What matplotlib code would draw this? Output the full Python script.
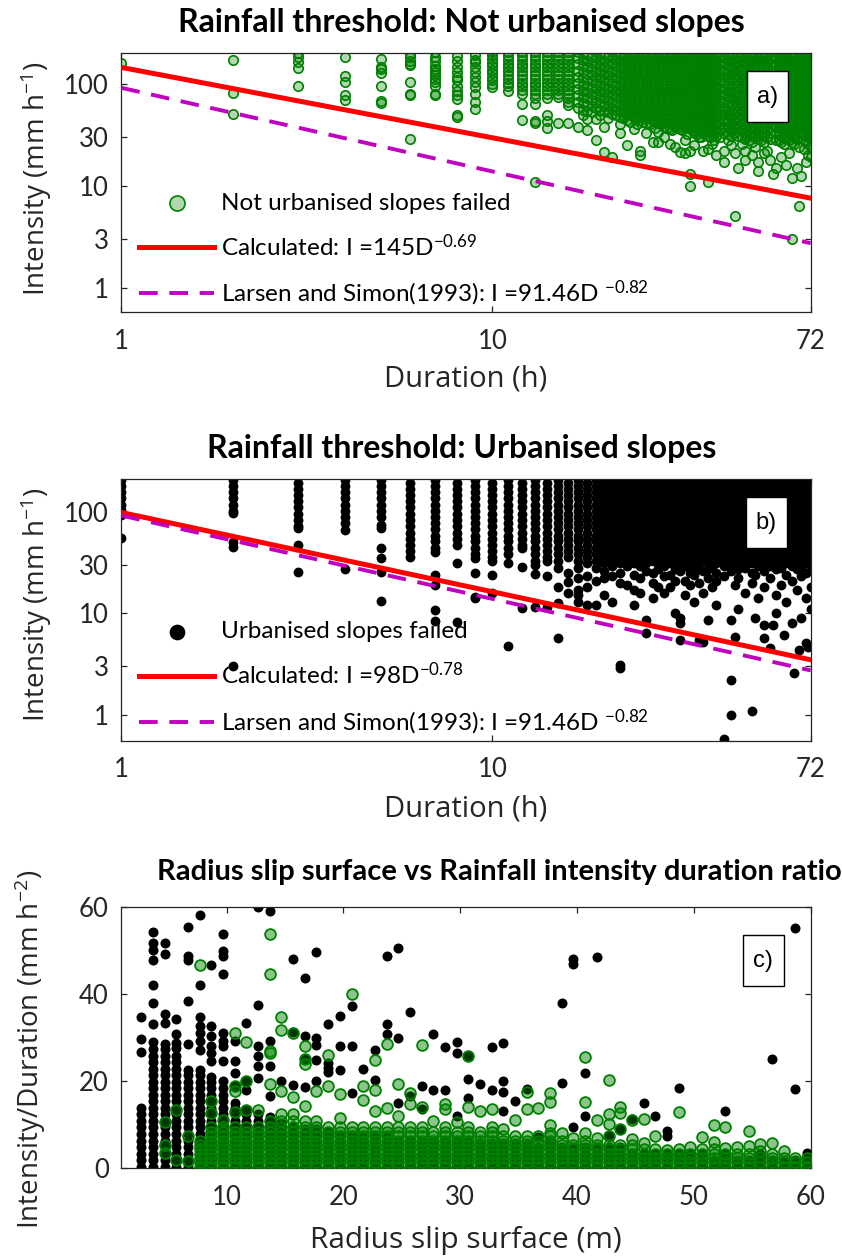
import numpy as np
import matplotlib
matplotlib.use("Agg")
import matplotlib.pyplot as plt
from matplotlib.patches import Rectangle
from matplotlib.ticker import NullLocator

plt.rcParams['font.family'] = ['Lato', 'DejaVu Sans']
plt.rcParams['mathtext.default'] = 'regular'

# ---------------- a) not urbanised slopes: duration (h) -> intensities (mm/h)
nu_dur = [1, 2, 3, 4, 5, 6, 7, 8, 9, 10, 11, 12, 13, 14, 15, 16, 17, 18, 19, 20,
          21, 22, 23, 24, 25, 26, 27, 28, 29, 30, 31, 32, 33, 34, 35, 36, 37, 38,
          39, 40, 42, 44, 45, 46, 48, 50, 52, 54, 56, 57, 58, 60, 62, 64, 66, 67,
          68, 70, 72]
nu_int = [
    [161],
    [173, 82, 51],
    [200, 185, 165, 142, 96],
    [185, 119, 105, 78, 69],
    [177, 146, 140, 127, 96, 68, 65],
    [196, 183, 169, 157, 152, 104, 80, 77, 29],
    [205, 182, 169, 150, 140, 130, 121, 112, 104, 96, 80, 77],
    [188, 169, 146, 130, 116, 108, 96, 86, 77, 71, 49, 47],
    [190, 172, 163, 146, 130, 116, 104, 93, 80, 66, 57],
    [205, 190, 175, 160, 148, 137, 127, 117, 108, 100, 93],
    [205, 188, 172, 158, 145, 133, 122, 112, 103, 95, 86],
    [205, 188, 172, 158, 145, 133, 122, 112, 103, 95, 87, 80, 64, 44],
    [205, 188, 172, 158, 145, 133, 122, 112, 103, 95, 87, 80, 73, 64, 43, 41, 11],
    [205, 188, 172, 158, 145, 133, 122, 112, 103, 95, 87, 80, 73, 49, 43, 37],
    [205, 188, 172, 158, 145, 133, 122, 112, 103, 95, 87, 80, 75, 41],
    [205, 188, 172, 158, 145, 133, 122, 112, 103, 95, 87, 80, 73, 67, 62, 41],
    [205, 178, 155, 135, 117, 102, 89, 77, 67, 58, 38],
    [192, 166, 145, 126, 110, 95, 83, 72, 62, 54, 45, 35],
    [205, 178, 155, 135, 117, 102, 89, 77, 67, 58, 45, 28],
    [192, 166, 145, 126, 110, 95, 83, 72, 62, 54, 38, 21.5],
    [205, 178, 155, 135, 117, 102, 89, 77, 67, 58, 51, 19],
    [192, 166, 145, 126, 110, 95, 83, 72, 62, 54, 47, 40, 33],
    [205, 178, 155, 135, 117, 102, 89, 77, 67, 58, 51, 44, 25],
    [192, 166, 145, 126, 110, 95, 83, 72, 62, 54, 47, 36],
    [205, 178, 155, 135, 117, 102, 89, 77, 67, 58, 51, 44, 22, 20],
    [192, 166, 145, 126, 110, 95, 83, 72, 62, 54, 47, 41, 33],
    [205, 178, 155, 135, 117, 102, 89, 77, 67, 58, 51, 44, 27],
    [192, 166, 145, 126, 110, 95, 83, 72, 62, 54, 47, 41, 34, 27],
    [205, 178, 155, 135, 117, 102, 89, 77, 67, 58, 51, 44, 38, 30],
    [192, 166, 145, 126, 110, 95, 83, 72, 62, 54, 47, 41, 36, 26],
    [205, 178, 155, 135, 117, 102, 89, 77, 67, 58, 51, 44, 38, 24],
    [192, 166, 145, 126, 110, 95, 83, 72, 62, 54, 47, 41, 36, 21.5],
    [205, 178, 155, 135, 117, 102, 89, 77, 67, 58, 51, 44, 38, 28, 21],
    [192, 166, 145, 126, 110, 95, 83, 72, 62, 54, 47, 41, 22, 13, 10],
    [205, 178, 155, 135, 117, 102, 89, 77, 67, 58, 51, 44, 38, 33, 25],
    [192, 166, 145, 126, 110, 95, 83, 72, 62, 54, 47, 41, 36, 30],
    [205, 178, 155, 135, 117, 102, 89, 77, 67, 58, 51, 44, 38, 33, 22],
    [192, 166, 145, 126, 110, 95, 83, 72, 62, 54, 47, 41, 36, 31, 23, 11],
    [205, 178, 155, 135, 117, 102, 89, 77, 67, 58, 51, 44, 38, 33, 26],
    [192, 166, 145, 126, 110, 95, 83, 72, 62, 54, 47, 41, 36, 31, 20],
    [205, 178, 155, 135, 117, 102, 89, 77, 67, 58, 51, 44, 38, 33, 22, 17],
    [192, 166, 145, 126, 110, 95, 83, 72, 62, 54, 47, 41, 36, 31, 25],
    [205, 178, 155, 135, 117, 102, 89, 77, 67, 58, 51, 44, 38, 33, 21, 5.1],
    [192, 166, 145, 126, 110, 95, 83, 72, 62, 54, 47, 41, 36, 31, 15],
    [205, 178, 155, 135, 117, 102, 89, 77, 67, 58, 51, 44, 38, 33, 29, 22, 18],
    [192, 166, 145, 126, 110, 95, 83, 72, 62, 54, 47, 41, 36, 31, 27, 20],
    [205, 178, 155, 135, 117, 102, 89, 77, 67, 58, 51, 44, 38, 33, 29, 17, 14],
    [192, 166, 145, 126, 110, 95, 83, 72, 62, 54, 47, 41, 36, 31, 27, 21],
    [205, 178, 155, 135, 117, 102, 89, 77, 67, 58, 51, 44, 38, 33, 29, 18],
    [192, 145, 95, 62, 41, 13],
    [205, 178, 155, 135, 117, 102, 89, 77, 67, 58, 51, 44, 38, 33, 28, 15],
    [192, 166, 145, 126, 110, 95, 83, 72, 62, 54, 47, 41, 36, 31, 27, 19],
    [205, 178, 155, 135, 117, 102, 89, 77, 67, 58, 51, 44, 38, 33, 29, 16],
    [192, 166, 145, 126, 110, 95, 83, 72, 62, 54, 47, 41, 36, 31, 27, 12, 3.0],
    [205, 178, 155, 135, 117, 102, 89, 77, 67, 58, 51, 44, 38, 33, 29, 15],
    [192, 145, 95, 62, 41, 24, 6.4],
    [205, 178, 155, 135, 117, 102, 89, 77, 67, 58, 51, 44, 38, 33, 12.5],
    [192, 166, 145, 126, 110, 95, 83, 72, 62, 54, 47, 41, 36, 31, 27, 17],
    [205, 178, 155, 135, 117, 102, 89, 77, 67, 58, 51, 44, 38, 33, 29, 24, 19],
]
# fractional durations inside the dense part of the cloud
nu_dur_mid = [17.5, 18.5, 19.5, 20.5, 21.5, 22.5, 23.5, 24.5, 25.5, 26.5, 27.5, 28.5,
              29.5, 30.5, 31.5, 32.5, 33.5, 34.5, 35.5, 36.5, 37.5, 38.5, 39.5, 41,
              43, 47, 49, 51, 53, 55, 59, 61, 63, 65, 69, 71]
nu_int_mid = [
    [198, 172, 150, 130, 113, 98, 86, 75, 65, 56, 49],
    [185, 160, 140, 122, 106, 92, 80, 70, 61, 53],
    [198, 172, 150, 130, 113, 98, 86, 75, 65, 56, 49],
    [185, 160, 140, 122, 106, 92, 80, 70, 61, 53, 46],
    [198, 172, 150, 130, 113, 98, 86, 75, 65, 56, 49],
    [185, 160, 140, 122, 106, 92, 80, 70, 61, 53, 46],
    [198, 172, 150, 130, 113, 98, 86, 75, 65, 56, 49, 42],
    [185, 160, 140, 122, 106, 92, 80, 70, 61, 53, 46, 40],
    [198, 172, 150, 130, 113, 98, 86, 75, 65, 56, 49, 42],
    [185, 160, 140, 122, 106, 92, 80, 70, 61, 53, 46, 40],
    [198, 172, 150, 130, 113, 98, 86, 75, 65, 56, 49, 42, 37],
    [185, 160, 140, 122, 106, 92, 80, 70, 61, 53, 46, 40],
    [198, 172, 150, 130, 113, 98, 86, 75, 65, 56, 49, 42, 37],
    [185, 160, 140, 122, 106, 92, 80, 70, 61, 53, 46, 40, 35],
    [198, 172, 150, 130, 113, 98, 86, 75, 65, 56, 49, 42, 37],
    [185, 160, 140, 122, 106, 92, 80, 70, 61, 53, 46, 40, 35],
    [198, 172, 150, 130, 113, 98, 86, 75, 65, 56, 49, 42, 37, 32],
    [185, 160, 140, 122, 106, 92, 80, 70, 61, 53, 46, 40, 35],
    [198, 172, 150, 130, 113, 98, 86, 75, 65, 56, 49, 42, 37, 32],
    [185, 160, 140, 122, 106, 92, 80, 70, 61, 53, 46, 40, 35, 30],
    [198, 172, 150, 130, 113, 98, 86, 75, 65, 56, 49, 42, 37, 32],
    [185, 160, 140, 122, 106, 92, 80, 70, 61, 53, 46, 40, 35, 30],
    [198, 172, 150, 130, 113, 98, 86, 75, 65, 56, 49, 42, 37, 32, 28],
    [185, 160, 140, 122, 106, 92, 80, 70, 61, 53, 46, 40, 35, 30],
    [198, 172, 150, 130, 113, 98, 86, 75, 65, 56, 49, 42, 37, 32, 28],
    [185, 160, 140, 122, 106, 92, 80, 70, 61, 53, 46, 40, 35, 30, 26],
    [198, 172, 150, 130, 113, 98, 86, 75, 65, 56, 49, 42, 37, 32, 28],
    [185, 160, 140, 122, 106, 92, 80, 70, 61, 53, 46, 40, 35, 30, 24],
    [198, 172, 150, 130, 113, 98, 86, 75, 65, 56, 49, 42, 37, 32, 28],
    [185, 160, 140, 122, 106, 92, 80, 70, 61, 53, 46, 40, 35, 30, 22],
    [198, 172, 150, 130, 113, 98, 86, 75, 65, 56, 49, 42, 37, 32, 28],
    [185, 160, 140, 122, 106, 92, 80, 70, 61, 53, 46, 40, 35, 30, 26],
    [198, 172, 150, 130, 113, 98, 86, 75, 65, 56, 49, 42, 37, 32, 28, 21],
    [185, 160, 140, 122, 106, 92, 80, 70, 61, 53, 46, 40, 35, 30, 26],
    [198, 172, 150, 130, 113, 98, 86, 75, 65, 56, 49, 42, 37, 32, 28, 23],
    [185, 160, 140, 122, 106, 92, 80, 70, 61, 53, 46, 40, 35, 30, 26, 20],
]

# ---------------- b) urbanised slopes
urb_dur = [1, 2, 3, 4, 5, 6, 7, 8, 9, 10, 11, 12, 13, 14, 15, 16, 17, 18, 19, 20,
           21, 22, 23, 24, 25, 26, 27, 28, 29, 30, 31, 32, 33, 34, 35, 36, 37, 38,
           39, 40, 42, 44, 45, 46, 48, 50, 51, 52, 54, 56, 57, 58, 60, 61, 62, 64,
           65, 66, 67, 68, 70, 71, 72]
urb_int = [
    [205, 178, 155, 135, 117, 104, 93, 55],
    [205, 178, 155, 135, 117, 102, 97, 50, 45, 3.0],
    [192, 166, 145, 126, 110, 95, 83, 72, 69, 47, 25.5],
    [205, 178, 155, 135, 117, 102, 89, 77, 66, 27],
    [205, 178, 155, 135, 117, 102, 88, 74, 69, 44, 35, 25.5, 13.2],
    [192, 166, 145, 126, 110, 95, 83, 72, 62, 54, 47, 41, 36],
    [205, 178, 155, 135, 117, 102, 89, 77, 67, 58, 51, 44, 40, 24, 19, 10.8, 8.3],
    [192, 166, 145, 126, 110, 95, 83, 72, 62, 54, 47, 31, 8.2],
    [205, 178, 155, 135, 117, 102, 89, 77, 67, 58, 51, 44, 38, 35, 25, 14.5, 14],
    [192, 166, 145, 126, 110, 95, 83, 72, 62, 54, 47, 41, 36, 33, 23.8, 15.8],
    [205, 178, 155, 135, 117, 102, 89, 77, 67, 58, 51, 44, 38, 31, 4.8],
    [192, 166, 145, 126, 110, 95, 83, 72, 62, 54, 47, 44, 28.5, 11.2],
    [205, 178, 155, 135, 117, 102, 89, 77, 67, 58, 51, 44, 38, 33, 30, 24.3, 11.5],
    [192, 166, 145, 126, 110, 95, 83, 72, 62, 54, 47, 41, 36, 33, 23, 11.5],
    [205, 178, 155, 135, 117, 102, 89, 77, 67, 58, 51, 44, 38, 33, 28, 18.3, 12.6, 5.7],
    [192, 166, 145, 126, 110, 95, 83, 72, 62, 54, 47, 41, 36, 25, 20.3, 16],
    [205, 178, 155, 135, 117, 102, 89, 77, 67, 58, 51, 44, 38, 33, 28, 22, 17, 15, 13],
    [192, 166, 145, 126, 110, 95, 83, 72, 62, 54, 47, 41, 36, 31, 23, 18, 12],
    [205, 178, 155, 135, 117, 102, 89, 77, 67, 58, 51, 44, 38, 33, 28, 21, 12],
    [192, 166, 145, 126, 110, 95, 83, 72, 62, 54, 47, 41, 36, 31, 26, 22, 15],
    [205, 178, 155, 135, 117, 102, 89, 77, 67, 58, 51, 44, 38, 33, 29, 23, 13],
    [192, 166, 145, 126, 110, 95, 83, 72, 62, 54, 47, 41, 36, 31, 25, 20, 3.1, 2.9],
    [205, 178, 155, 135, 117, 102, 89, 77, 67, 58, 51, 44, 38, 33, 29, 19],
    [192, 166, 145, 126, 110, 95, 83, 72, 62, 54, 47, 41, 36, 31, 24, 17, 12],
    [205, 178, 155, 135, 117, 102, 89, 77, 67, 58, 51, 44, 38, 33, 29, 22, 16],
    [192, 166, 145, 126, 110, 95, 83, 72, 62, 54, 47, 41, 36, 31, 26, 8.6, 6.4],
    [205, 178, 155, 135, 117, 102, 89, 77, 67, 58, 51, 44, 38, 33, 25, 20, 14],
    [192, 166, 145, 126, 110, 95, 83, 72, 62, 54, 47, 41, 36, 31, 27, 18],
    [205, 178, 155, 135, 117, 102, 89, 77, 67, 58, 51, 44, 38, 33, 29, 23, 16],
    [192, 166, 145, 126, 110, 95, 83, 72, 62, 54, 47, 41, 36, 31, 24, 18],
    [205, 178, 155, 135, 117, 102, 89, 77, 67, 58, 51, 44, 38, 33, 27, 21, 10],
    [192, 166, 145, 126, 110, 95, 83, 72, 62, 54, 47, 41, 36, 31, 26, 9, 8, 5.5],
    [205, 178, 155, 135, 117, 102, 89, 77, 67, 58, 51, 44, 38, 33, 29, 21, 15],
    [192, 166, 145, 126, 110, 95, 83, 72, 62, 54, 47, 41, 36, 31, 25, 19],
    [205, 178, 155, 135, 117, 102, 89, 77, 67, 58, 51, 44, 38, 33, 28, 24, 13],
    [192, 166, 145, 126, 110, 95, 83, 72, 62, 54, 47, 41, 36, 31, 27, 20, 5.5],
    [205, 178, 155, 135, 117, 102, 89, 77, 67, 58, 51, 44, 38, 33, 26, 16, 5.2],
    [192, 166, 145, 126, 110, 95, 83, 72, 62, 54, 47, 41, 36, 31, 27, 22, 8.6],
    [205, 178, 155, 135, 117, 102, 89, 77, 67, 58, 51, 44, 38, 33, 29, 18],
    [192, 166, 145, 126, 110, 95, 83, 72, 62, 54, 47, 41, 36, 31, 25, 21, 12],
    [205, 178, 155, 135, 117, 102, 89, 77, 67, 58, 51, 44, 38, 33, 29, 23, 0.58],
    [192, 166, 145, 126, 110, 95, 83, 72, 62, 54, 47, 41, 36, 31, 26, 8.6, 2.2, 1.0],
    [205, 178, 155, 135, 117, 102, 89, 77, 67, 58, 51, 44, 38, 33, 29, 19, 5.9],
    [192, 166, 145, 126, 110, 95, 83, 72, 62, 54, 47, 41, 36, 31, 27, 22, 11],
    [205, 178, 155, 135, 117, 102, 89, 77, 67, 58, 51, 44, 38, 33, 28, 16],
    [192, 166, 145, 126, 110, 95, 83, 72, 62, 54, 47, 41, 36, 31, 25, 20, 1.1],
    [24, 9],
    [205, 178, 155, 135, 117, 102, 89, 77, 67, 58, 51, 44, 38, 33, 29, 14],
    [192, 166, 145, 126, 110, 95, 83, 72, 62, 54, 47, 41, 36, 31, 26, 18, 7.6, 5.7],
    [205, 178, 155, 135, 117, 102, 89, 77, 67, 58, 51, 44, 38, 33, 29, 22, 4.6],
    [7.6],
    [192, 166, 145, 126, 110, 95, 83, 72, 62, 54, 47, 41, 36, 31, 27, 15, 10],
    [205, 178, 155, 135, 117, 102, 89, 77, 67, 58, 51, 44, 38, 33, 28, 19],
    [6.1],
    [192, 166, 145, 126, 110, 95, 83, 72, 62, 54, 47, 41, 36, 31, 24, 13],
    [205, 178, 155, 135, 117, 102, 89, 77, 67, 58, 51, 44, 38, 33, 29, 21, 8.0],
    [2.6],
    [192, 166, 145, 126, 110, 95, 83, 72, 62, 54, 47, 41, 36, 31, 27, 17],
    [4.4],
    [205, 178, 155, 135, 117, 102, 89, 77, 67, 58, 51, 44, 38, 33, 27, 23, 9],
    [192, 166, 145, 126, 110, 95, 83, 72, 62, 54, 47, 41, 36, 31, 25, 14, 5.1],
    [4.7],
    [205, 178, 155, 135, 117, 102, 89, 77, 67, 58, 51, 44, 38, 33, 29, 18, 11],
]

# ---------------- c) slip surface radius (m) -> intensity/duration (mm/h^2)
urb_r = [2.7, 3.7, 4.7, 5.7, 6.7, 7.7, 8.7, 9.7, 10.7, 11.7, 12.7, 13.7, 14.7, 15.7,
         16.7, 17.7, 18.7, 19.7, 20.7, 21.7, 22.7, 23.7, 24.7, 25.7, 26.7, 27.7,
         28.7, 29.7, 30.7, 31.7, 32.7, 33.7, 34.7, 35.7, 36.7, 37.7, 38.7, 39.7,
         40.7, 41.7, 42.7, 43.7, 44.7, 45.7, 46.7, 47.7, 48.7, 49.7, 50.7, 51.7,
         52.7, 53.7, 54.7, 55.7, 56.7, 57.7, 58.7, 59.7]
urb_ratio = [
    [0.3, 1.8, 3.3, 4.8, 6.3, 7.8, 9.3, 10.8, 12.3, 13.8, 26.6, 29.6, 34.6],
    [0.3, 1.8, 3.3, 4.8, 6.3, 7.8, 9.3, 10.8, 12.3, 13.8, 15.3, 16.8, 18.3, 19.8, 21.3,
     22.8, 24.3, 25.8, 27.3, 29.0, 33.2, 38.0, 42.0, 47.9, 50.1, 51.8, 54.3],
    [0.3, 1.8, 3.3, 4.8, 6.3, 7.8, 9.3, 10.8, 12.3, 13.8, 15.3, 16.8, 18.3, 19.8, 21.3,
     22.8, 24.3, 25.8, 27.3, 28.5, 33.4, 35.3, 49.3, 51.8],
    [0.3, 1.8, 3.3, 4.8, 6.3, 7.8, 9.3, 10.8, 12.3, 13.8, 15.3, 16.8, 18.3, 19.8, 21.3,
     22.8, 24.3, 25.8, 27.5, 28.8, 30.7, 34.2],
    [0.3, 1.8, 3.3, 4.8, 6.3, 7.8, 9.3, 10.8, 12.3, 13.8, 15.3, 16.8, 18.3, 19.8, 21.3,
     22.6, 28.6, 38.4, 47.9, 48.7, 55.3],
    [0.3, 1.8, 3.3, 4.8, 6.3, 7.8, 9.3, 10.8, 12.3, 13.8, 15.3, 16.8, 18.3, 19.8, 21.3,
     22.6, 27.1, 29.2, 31.1, 32.6, 34.6, 42.1, 58.1],
    [0.3, 1.8, 3.3, 4.8, 6.3, 7.8, 9.3, 10.8, 12.3, 13.8, 15.3, 16.8, 18.3, 19.8, 21.0,
     24.5, 26.5, 28.0, 30.3, 32.6, 46.6],
    [0.3, 1.8, 3.3, 4.8, 6.3, 7.8, 9.3, 10.8, 12.3, 13.8, 15.3, 16.8, 18.3, 20.0, 24.5,
     28.0, 29.2, 31.1, 44.5, 48.7, 49.8, 53.7],
    [0.3, 1.8, 3.3, 4.8, 6.3, 7.8, 9.3, 10.8, 12.3, 13.8, 15.0, 18.8, 21.8, 24.5, 29.2],
    [0.3, 1.8, 3.3, 4.8, 6.3, 7.8, 9.3, 10.8, 12.3, 13.4, 18.0, 20.0, 33.4],
    [0.3, 1.8, 3.3, 4.8, 6.3, 7.8, 9.3, 10.8, 12.5, 20.7, 23.4, 25.7, 28.0, 37.5, 60.0],
    [0.3, 1.8, 3.3, 4.8, 6.3, 7.8, 9.3, 10.8, 11.8, 16.5, 23.4, 29.2, 59.1],
    [0.3, 1.8, 3.3, 4.8, 6.3, 7.8, 9.3, 10.4, 20.1],
    [0.3, 1.8, 3.3, 4.8, 6.3, 7.8, 9.7, 19.0, 31.2, 48.1],
    [0.3, 1.8, 3.3, 4.8, 6.3, 7.8, 9.0, 18.5, 25.0, 30.3, 43.6],
    [0.3, 1.8, 3.3, 4.8, 6.3, 7.8, 9.0, 19.9, 24.9, 28.3, 29.9, 49.6],
    [0.3, 1.8, 3.3, 4.8, 6.3, 7.8, 8.3, 22.0, 23.0, 24.1, 33.0],
    [0.3, 1.8, 3.3, 4.8, 6.3, 7.6, 22.6, 28.0, 35.0],
    [0.3, 1.8, 3.3, 4.8, 6.3, 7.6, 17.2, 28.0, 37.2],
    [0.3, 1.8, 3.3, 4.8, 6.3, 7.2, 22.7],
    [0.3, 1.8, 3.3, 4.8, 6.3, 7.2, 20.3, 27.2],
    [0.3, 1.8, 3.3, 4.8, 6.3, 7.2, 30.7, 33.0, 48.7],
    [0.3, 1.8, 3.3, 4.8, 6.3, 15.0, 29.9, 50.6],
    [0.3, 1.8, 3.3, 4.8, 6.3, 16.5, 35.9],
    [0.3, 1.8, 3.3, 4.8, 6.0, 13.5, 18.8],
    [0.3, 1.8, 3.3, 4.8, 6.0, 18.0, 30.8],
    [0.3, 1.8, 3.3, 4.8, 6.0, 17.9, 27.9],
    [0.3, 1.8, 3.3, 4.8, 6.0, 12.0, 26.4, 29.0],
    [0.3, 1.8, 3.3, 4.8, 6.0, 16.1, 20.5, 25.8],
    [0.3, 1.8, 3.3, 4.8, 5.8, 19.3],
    [0.3, 1.8, 3.3, 4.8, 5.8, 17.9, 27.9],
    [0.3, 1.8, 3.3, 4.8, 5.8, 13.0, 17.4, 20.1, 28.7],
    [0.3, 1.8, 3.3, 4.8, 5.8, 15.3],
    [0.3, 1.8, 3.3, 4.8, 5.8, 18.1],
    [0.3, 1.8, 3.3, 4.8, 7.2],
    [0.3, 1.8, 3.3, 4.8, 6.0],
    [0.3, 1.8, 3.3, 4.8, 19.6, 38.0],
    [0.3, 1.8, 3.3, 4.8, 9.5, 47.0, 48.0],
    [0.3, 1.8, 3.3, 4.8, 11.9, 21.8],
    [0.3, 1.8, 3.3, 4.8, 48.6],
    [0.3, 1.8, 3.3, 4.8, 7.5],
    [0.3, 1.8, 3.3, 4.8, 8.9],
    [0.3, 1.8, 3.3, 11.2],
    [0.3, 1.8, 3.3, 15.0],
    [0.3, 1.8, 3.3, 11.9],
    [0.3, 1.8, 3.3, 7.3, 8.4],
    [0.3, 1.8, 3.3, 18.3],
    [0.3, 1.8, 3.3],
    [0.3, 1.8, 3.3],
    [0.3, 1.8],
    [0.3, 1.8, 3.3, 13.1],
    [0.3, 1.8],
    [0.3, 1.8],
    [0.3, 1.8, 3.3],
    [0.3, 1.8, 25.0],
    [0.3, 1.8],
    [0.3, 1.8, 18.1, 55.2],
    [0.3, 1.8, 3.4],
]
nu_r = [4.7, 5.7, 6.7, 7.7, 8.7, 9.7, 10.7, 11.7, 12.7, 13.7, 14.7, 15.7, 16.7,
        17.7, 18.7, 19.7, 20.7, 21.7, 22.7, 23.7, 24.7, 25.7, 26.7, 27.7, 28.7,
        29.7, 30.7, 31.7, 32.7, 33.7, 34.7, 35.7, 36.7, 37.7, 38.7, 39.7, 40.7,
        41.7, 42.7, 43.7, 44.7, 45.7, 46.7, 47.7, 48.7, 49.7, 50.7, 51.7, 52.7,
        53.7, 54.7, 55.7, 56.7, 57.7, 58.7, 59.7]
nu_ratio = [
    [3.4, 5.3, 10.5],
    [1.9, 13.4],
    [1.5, 7.3],
    [0.3, 1.3, 2.3, 3.3, 4.3, 5.3, 6.3, 46.6],
    [0.3, 1.3, 2.3, 3.3, 4.3, 5.3, 6.3, 7.3, 8.3, 9.3, 12.6, 15.3],
    [0.3, 1.3, 2.3, 3.3, 4.3, 5.3, 6.3, 7.3, 8.3, 9.3, 11.0],
    [0.3, 1.3, 2.3, 3.3, 4.3, 5.3, 6.3, 7.3, 8.3, 9.3, 12.9, 17.8, 18.8, 31.1],
    [0.3, 1.3, 2.3, 3.3, 4.3, 5.3, 6.3, 7.3, 8.3, 9.3, 13.4, 20.0, 29.0],
    [0.3, 1.3, 2.3, 3.3, 4.3, 5.3, 6.3, 7.3, 8.3, 9.3, 13.3],
    [0.3, 1.3, 2.3, 3.3, 4.3, 5.3, 6.3, 7.3, 8.3, 9.3, 10.8, 19.3, 26.5, 27.0, 44.6, 53.8],
    [0.3, 1.3, 2.3, 3.3, 4.3, 5.3, 6.3, 7.3, 8.3, 9.3, 10.8, 12.3, 17.7, 31.7, 34.6],
    [0.3, 1.3, 2.3, 3.3, 4.3, 5.3, 6.3, 7.3, 8.3, 9.3, 10.8, 12.3, 16.2, 31.1],
    [0.3, 1.3, 2.3, 3.3, 4.3, 5.3, 6.3, 7.3, 8.3, 9.3, 10.8, 14.2, 24.0, 25.0, 28.0],
    [0.3, 1.3, 2.3, 3.3, 4.3, 5.3, 6.3, 7.3, 8.3, 9.3, 10.8, 17.7],
    [0.3, 1.3, 2.3, 3.3, 4.3, 5.3, 6.3, 7.3, 8.3, 9.3, 18.8, 25.9],
    [0.3, 1.3, 2.3, 3.3, 4.3, 5.3, 6.3, 7.3, 8.3, 9.3, 11.5, 17.0],
    [0.3, 1.3, 2.3, 3.3, 4.3, 5.3, 6.3, 7.3, 8.3, 9.3, 40.1],
    [0.3, 1.3, 2.3, 3.3, 4.3, 5.3, 6.3, 7.3, 8.3, 9.3, 15.7, 18.8],
    [0.3, 1.3, 2.3, 3.3, 4.3, 5.3, 6.3, 7.3, 8.3, 9.3, 13.0, 18.0, 24.9],
    [0.3, 1.3, 2.3, 3.3, 4.3, 5.3, 6.3, 7.3, 8.3, 9.3, 13.8, 28.5],
    [0.3, 1.3, 2.3, 3.3, 4.3, 5.3, 6.3, 7.3, 8.3, 9.3, 12.0, 19.3],
    [0.3, 1.3, 2.3, 3.3, 4.3, 5.3, 6.3, 7.3, 8.3, 9.3, 14.8, 17.3],
    [0.3, 1.3, 2.3, 3.3, 4.3, 5.3, 6.3, 7.3, 8.3, 9.3, 14.1, 28.3],
    [0.3, 1.3, 2.3, 3.3, 4.3, 5.3, 6.3, 7.3, 8.3, 10.8],
    [0.3, 1.3, 2.3, 3.3, 4.3, 5.3, 6.3, 7.3, 8.3, 9.3, 13.5, 14.8],
    [0.3, 1.3, 2.3, 3.3, 4.3, 5.3, 6.3, 7.3, 8.3, 10.5],
    [0.3, 1.3, 2.3, 3.3, 4.3, 5.3, 6.3, 7.3, 8.3, 9.3, 14.0, 25.8],
    [0.3, 1.3, 2.3, 3.3, 4.3, 5.3, 6.3, 7.3, 8.3, 13.0],
    [0.3, 1.3, 2.3, 3.3, 4.3, 5.3, 6.3, 7.3, 8.3, 9.3, 13.5],
    [0.3, 1.3, 2.3, 3.3, 4.3, 5.3, 6.3, 7.3, 9.0],
    [0.3, 1.3, 2.3, 3.3, 4.3, 5.3, 6.3, 7.3, 11.0],
    [0.3, 1.3, 2.3, 3.3, 4.3, 5.3, 6.3, 7.3, 13.5, 17.5],
    [0.3, 1.3, 2.3, 3.3, 4.3, 5.3, 6.3, 7.3, 13.8],
    [0.3, 1.3, 2.3, 3.3, 4.3, 5.3, 6.3, 7.3, 8.0, 9.9, 15.2, 17.2],
    [0.3, 1.3, 2.3, 3.3, 4.3, 5.3, 6.3, 8.0],
    [0.3, 1.3, 2.3, 3.3, 4.3, 5.3, 6.9],
    [0.3, 1.3, 2.3, 3.3, 4.3, 5.3, 6.3, 8.0, 15.2, 25.5],
    [0.3, 1.3, 2.3, 3.3, 4.3, 5.3, 6.9, 11.0],
    [0.3, 1.3, 2.3, 3.3, 4.3, 5.3, 7.3, 10.0, 12.5, 20.2],
    [0.3, 1.3, 2.3, 3.3, 4.3, 5.3, 8.9, 12.6, 14.1],
    [0.3, 1.3, 2.3, 3.3, 4.3, 5.3, 6.7, 11.0],
    [0.3, 1.3, 2.3, 3.3, 4.3, 5.8, 11.2],
    [0.3, 1.3, 2.3, 3.3, 4.3, 7.3],
    [0.3, 1.3, 2.3, 3.3, 4.2],
    [0.3, 1.3, 2.3, 3.3, 4.3, 12.9],
    [0.3, 1.3, 2.3, 3.3, 4.9],
    [0.3, 1.3, 2.3, 3.3, 4.3, 7.2],
    [0.3, 1.3, 2.3, 3.3, 4.3, 6.0, 9.9],
    [0.3, 1.3, 2.3, 3.3, 4.6, 9.5],
    [0.3, 1.3, 2.3, 3.3, 4.9],
    [0.3, 1.3, 2.3, 3.3, 5.0, 8.4],
    [0.3, 1.3, 2.5, 4.0, 5.5],
    [0.3, 1.3, 2.3, 3.3, 5.7],
    [0.3, 1.3, 2.3, 4.0],
    [0.3, 1.3, 2.3],
    [0.3, 1.3, 2.3],
]

# threshold curves I = a * D^b
calc_nu = (145, -0.69)
calc_urb = (98, -0.78)
larsen = (91.46, -0.82)


def flat(keys, cols):
    xs = [k for k, col in zip(keys, cols) for _ in col]
    ys = [v for col in cols for v in col]
    return np.array(xs, float), np.array(ys, float)


GREEN = (0, 0.5, 0)
MAGENTA = (0.75, 0, 0.75)
AXC = (0.15, 0.15, 0.15)
LABEL_FONT = ['Open Sans', 'DejaVu Sans']

fig = plt.figure(figsize=(8.42, 12.56), dpi=100)


def style(ax):
    for sp in ax.spines.values():
        sp.set_color(AXC)
        sp.set_linewidth(0.9)
    ax.tick_params(which='major', direction='in', top=True, right=True, length=4,
                   width=0.9, colors=AXC, labelsize=18.5)
    ax.tick_params(axis='x', pad=12)
    ax.tick_params(axis='y', pad=9)
    ax.tick_params(which='minor', length=0)


def ylabel(text, x, y):
    # y label placed in figure pixels (centre of the rotated text)
    fig.text(x / 842, 1 - y / 1256, text, rotation=90, ha='center', va='center',
             fontsize=20, family=LABEL_FONT, color=AXC)


def tag(ax, x, y, s):
    w, h = 0.0595, 0.195
    ax.add_patch(Rectangle((x - w / 2, y - h / 2), w, h, transform=ax.transAxes,
                           fc='white', ec='black', lw=1.0, zorder=6))
    ax.text(x, y, s, transform=ax.transAxes, ha='center', va='center',
            fontsize=17, family='Liberation Sans', zorder=7)


def threshold_panel(ax, d, i, calc, title, scatter_kw, label, ylim):
    sc = ax.scatter(d, i, zorder=2, **scatter_kw)
    dd = np.array([1.0, 72.0])
    l1, = ax.plot(dd, calc[0] * dd ** calc[1], color='red', lw=3.6, zorder=3)
    l2, = ax.plot(dd, larsen[0] * dd ** larsen[1], color=MAGENTA, lw=2.8,
                  ls=(0, (4.8, 3.0)), zorder=3)
    ax.set_xscale('log')
    ax.set_yscale('log')
    ax.set_xlim(1, 72)
    ax.set_ylim(*ylim)
    ax.set_xticks([1, 10, 72])
    ax.set_xticklabels(['1', '10', '72'])
    ax.set_yticks([1, 3, 10, 30, 100])
    ax.set_yticklabels(['1', '3', '10', '30', '100'])
    ax.xaxis.set_minor_locator(NullLocator())
    ax.yaxis.set_minor_locator(NullLocator())
    style(ax)
    ax.set_xlabel('Duration (h)', fontsize=21, family=LABEL_FONT, va='center', color=AXC)
    ax.xaxis.set_label_coords(0.5, -0.26)
    ax.text(0.494, 1.115, title, transform=ax.transAxes, ha='center', va='center',
            fontsize=23, fontweight='bold')
    labels = [label,
              'Calculated: I =%gD$^{%g}$' % calc,
              'Larsen and Simon(1993): I =91.46D $^{-0.82}$']
    leg = ax.legend([sc, l1, l2], labels, loc='lower left', bbox_to_anchor=(0.02, 0.0),
                    frameon=False, fontsize=17.5, handlelength=3.1, handletextpad=0.3,
                    labelspacing=0.8, markerscale=1.6, borderaxespad=0.15, borderpad=0)
    leg.set_zorder(5)


# a) not urbanised
ax1 = fig.add_axes([0.1442, 0.7516, 0.8185, 0.2066])
x, y = flat(nu_dur + nu_dur_mid, nu_int + nu_int_mid)
threshold_panel(ax1, x, y, calc_nu, 'Rainfall threshold: Not urbanised slopes',
                dict(s=46, facecolors=(0, 0.5, 0, 0.3), edgecolors=[GREEN], linewidths=1.2),
                'Not urbanised slopes failed', (0.58, 203))
tag(ax1, 0.938, 0.83, 'a)')
ylabel('Intensity (mm h$^{-1}$)', 36, 179)

# b) urbanised
ax2 = fig.add_axes([0.1442, 0.4104, 0.8185, 0.2082])
x, y = flat(urb_dur, urb_int)
threshold_panel(ax2, x, y, calc_urb, 'Rainfall threshold: Urbanised slopes',
                dict(s=50, c='black', linewidths=0),
                'Urbanised slopes failed', (0.56, 209))
tag(ax2, 0.936, 0.832, 'b)')
ylabel('Intensity (mm h$^{-1}$)', 36, 605)

# c) radius of slip surface vs I/D
ax3 = fig.add_axes([0.1442, 0.0701, 0.8185, 0.2078])
x, y = flat(urb_r, urb_ratio)
ax3.scatter(x, y, s=52, c='black', linewidths=0, zorder=2)
x, y = flat(nu_r, nu_ratio)
ax3.scatter(x, y, s=60, facecolors=(0, 0.5, 0, 0.45), edgecolors=[GREEN],
            linewidths=1.3, zorder=3)
ax3.set_xlim(1, 60)
ax3.set_ylim(0, 60)
ax3.set_xticks([10, 20, 30, 40, 50, 60])
ax3.set_yticks([0, 20, 40, 60])
style(ax3)
ax3.set_xlabel('Radius slip surface (m)', fontsize=21.5, family=LABEL_FONT, va='center',
               color=AXC)
ax3.xaxis.set_label_coords(0.5, -0.278)
ax3.text(0.548, 1.133, 'Radius slip surface vs Rainfall intensity duration ratio',
         transform=ax3.transAxes, ha='center', va='center', fontsize=21, fontweight='bold')
tag(ax3, 0.931, 0.794, 'c)')
ylabel('Intensity/Duration (mm h$^{-2}$)', 30, 1049)

fig.savefig('out.png', dpi=100)
